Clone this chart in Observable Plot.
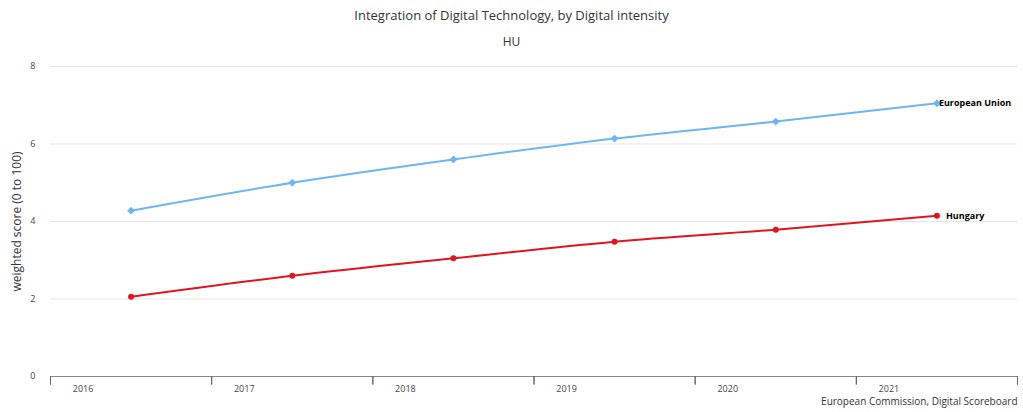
<!DOCTYPE html>
<html><head><meta charset="utf-8">
<script src="https://cdn.jsdelivr.net/npm/d3@7"></script>
<script src="https://cdn.jsdelivr.net/npm/@observablehq/plot@0.6"></script>
<style>
body{margin:0;background:#fff;font-family:"Open Sans",sans-serif;}
#title{position:absolute;top:6px;left:0;width:1023px;text-align:center;font-size:13px;color:#333;}
#sub{position:absolute;top:33px;left:0;width:1023px;text-align:center;font-size:12px;color:#333;}
#chart{position:absolute;top:55px;left:0;}
</style></head><body>
<div id="title">Integration of Digital Technology, by Digital intensity</div>
<div id="sub">HU</div>
<div id="chart"></div>
<script>
const years = [2016, 2017, 2018, 2019, 2020, 2021];
const euValues = [4.28, 5.0, 5.6, 6.14, 6.58, 7.05];
const huValues = [2.06, 2.6, 3.05, 3.48, 3.79, 4.15];
const yTicks = [0, 2, 4, 6, 8];
const boundaries = [2015.5, 2016.5, 2017.5, 2018.5, 2019.5, 2020.5, 2021.5];
const eu = years.map((y, i) => ({year: y, value: euValues[i]}));
const hu = years.map((y, i) => ({year: y, value: huValues[i]}));
const euColor = "#6db5f7", huColor = "#e0151f";

const plot = Plot.plot({
  width: 1023, height: 357,
  marginLeft: 50, marginRight: 6, marginTop: 11, marginBottom: 36,
  style: {fontFamily: "Open Sans, sans-serif"},
  x: {type: "linear", domain: [2015.5, 2021.5], axis: null},
  y: {type: "linear", domain: [0, 8], axis: null},
  marks: [
    Plot.ruleY(yTicks.filter(d => d > 0), {y: d => d, stroke: "#e6e6e6", strokeWidth: 1}),
    Plot.text(yTicks, {x: 2015.5, y: d => d, text: d => String(d), dx: -15, textAnchor: "end", fontSize: 9, fill: "#444"}),
    Plot.ruleY([0], {y: d => d, stroke: "#888", strokeWidth: 1.2}),
    Plot.vector(boundaries, {x: d => d, y: 0, length: 8, rotate: 180, anchor: "start", shape: "spike", r: 0, stroke: "#666", strokeWidth: 1}),
    Plot.text(years, {x: d => d, y: 0, text: d => String(d), dx: -48, dy: 13, fontSize: 9, fill: "#444"}),
    Plot.text(["weighted score (0 to 100)"], {frameAnchor: "left", textAnchor: "middle", rotate: -90, dx: -33, fontSize: 12, fill: "#333"}),
    Plot.line(eu, {x: "year", y: "value", stroke: euColor, strokeWidth: 2, curve: "monotone-x"}),
    Plot.dot(eu, {x: "year", y: "value", fill: euColor, symbol: "diamond2", r: 3.5}),
    Plot.line(hu, {x: "year", y: "value", stroke: huColor, strokeWidth: 2, curve: "monotone-x"}),
    Plot.dot(hu, {x: "year", y: "value", fill: huColor, symbol: "circle", r: 3}),
    Plot.text([eu[eu.length - 1]], {x: "year", y: "value", text: () => "European Union", textAnchor: "start", dx: 2, fontSize: 9, fontWeight: "bold", fill: "#000"}),
    Plot.text([hu[hu.length - 1]], {x: "year", y: "value", text: () => "Hungary", textAnchor: "start", dx: 9, fontSize: 9, fontWeight: "bold", fill: "#000"}),
    Plot.text(["European Commission, Digital Scoreboard"], {frameAnchor: "bottom-right", textAnchor: "end", dy: 28, dx: 0, fontSize: 10, fill: "#333"})
  ]
});
document.getElementById("chart").appendChild(plot);
</script>
</body></html>
